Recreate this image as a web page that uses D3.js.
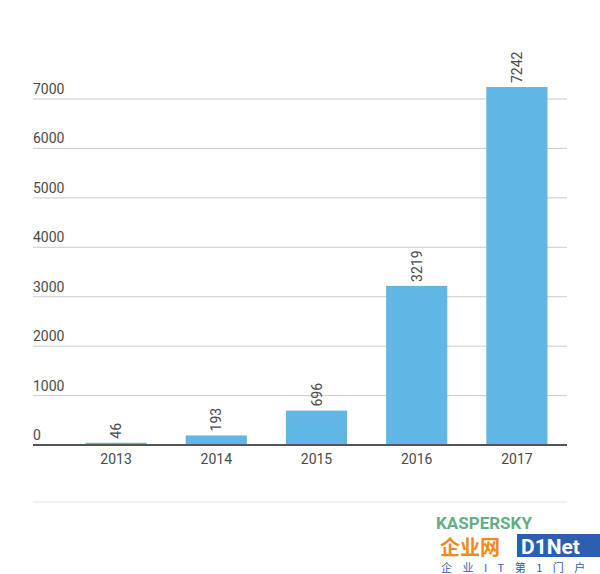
<!DOCTYPE html>
<html><head><meta charset="utf-8">
<script src="https://cdn.jsdelivr.net/npm/d3@7"></script>
<style>body{margin:0;background:#fff}svg{display:block}</style>
</head><body>
<script>
const years = ["2013","2014","2015","2016","2017"];
const counts = [46, 193, 696, 3219, 7242];
const yTicks = [0,1000,2000,3000,4000,5000,6000,7000];

const W = 600, H = 574;
const svg = d3.select("body").append("svg").attr("width", W).attr("height", H);
const left = 33, right = 567, plotLeft = 66;
const y = d3.scaleLinear().domain([0, 7000]).range([445, 99]);
const x = d3.scaleBand().domain(years).range([plotLeft, right]).paddingInner(0.39).paddingOuter(0.195);

const font = "Roboto, 'Noto Sans', sans-serif";
const txt = "#4a4a4a";

// gridlines + labels
const g = svg.append("g");
yTicks.forEach(t => {
  if (t > 0) g.append("line").attr("x1", left).attr("x2", right).attr("y1", y(t)).attr("y2", y(t))
    .attr("stroke", "#cccccc").attr("stroke-width", 1);
  g.append("text").attr("x", left).attr("y", y(t) - 5).text(t)
    .attr("font-family", font).attr("font-size", 14).attr("fill", txt);
});

// bars
svg.append("g").selectAll("rect").data(counts).join("rect")
  .attr("x", (d,i) => x(years[i])).attr("width", x.bandwidth())
  .attr("y", d => y(d)).attr("height", d => y(0) - y(d))
  .attr("fill", "#60b6e4");

// value labels
svg.append("g").selectAll("text").data(counts).join("text")
  .attr("transform", (d,i) => `translate(${x(years[i]) + x.bandwidth()/2 + 5},${y(d) - 4}) rotate(-90)`)
  .attr("font-family", font).attr("font-size", 14).attr("fill", txt)
  .text(d => d);

// baseline
svg.append("line").attr("x1", left).attr("x2", right).attr("y1", y(0)).attr("y2", y(0))
  .attr("stroke", "#555").attr("stroke-width", 2);

// x axis labels
const xAxis = d3.axisBottom(x).tickSize(0).tickPadding(8);
const xa = svg.append("g").attr("transform", `translate(0,${y(0)+1})`).call(xAxis);
xa.select(".domain").remove();
xa.selectAll("text").attr("font-family", font).attr("font-size", 14).attr("fill", txt);

// bottom rule
svg.append("line").attr("x1", left).attr("x2", right).attr("y1", 502).attr("y2", 502)
  .attr("stroke", "#e3e3e3").attr("stroke-width", 1);

// watermark
const wm = svg.append("g");
wm.append("text").attr("x", 436).attr("y", 529).text("KASPERSKY")
  .attr("font-family", font).attr("font-size", 17).attr("font-weight", "bold").attr("fill", "#3a9a6a").attr("opacity", 0.8);
wm.append("rect").attr("x", 517).attr("y", 534).attr("width", 83).attr("height", 23).attr("fill", "#2d5fb0");
wm.append("text").attr("x", 440).attr("y", 555).text("企业网")
  .attr("font-family", "'Noto Sans CJK SC'").attr("font-size", 20).attr("font-weight", "bold").attr("fill", "#f08a1c");
wm.append("text").attr("x", 521).attr("y", 554).text("D1Net")
  .attr("font-family", font).attr("font-size", 21).attr("font-weight", "bold").attr("fill", "#ffffff");
wm.append("text").attr("x", 441).attr("y", 572).text("企 业 I T 第 1 门 户")
  .attr("font-family", "'Noto Sans CJK SC'").attr("font-size", 11).attr("fill", "#2d5fb0").attr("letter-spacing", 4);
</script>
</body></html>
